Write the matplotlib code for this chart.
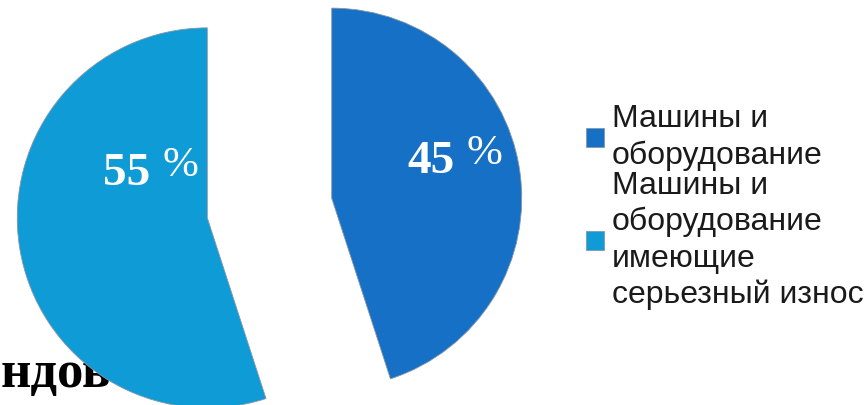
import matplotlib.pyplot as plt

# data
shares = [45, 55]
labels = ['Машины и\nоборудование',
          'Машины и\nоборудование\nимеющие\nсерьезный износ']
colors = ['#1570c6', '#0f9bd6']
pct_pos = [(461, 232), (156, 220)]   # gap between number and % sign (pixels, y up)


def main():
    fig = plt.figure(figsize=(8.68, 4.05), dpi=100)
    fig.patch.set_facecolor('white')
    ax = fig.add_axes([0, 0, 1, 1])

    # leftover slide title, partly hidden by the pie
    ax.text(1, 18, 'ндов', fontsize=38, fontweight='bold',
            family='Liberation Serif', color='black', va='baseline',
            ha='left', zorder=0)

    wedges, _ = ax.pie(shares, colors=colors, startangle=90, counterclock=False,
                       center=(269.5, 197), radius=190, explode=[63, 63],
                       wedgeprops=dict(edgecolor='#8796a8', linewidth=0.6,
                                       zorder=1))

    # number, then a raised % sign
    for val, (x, y) in zip(shares, pct_pos):
        ax.text(x - 6, y, f'{val}', fontsize=34, fontweight='bold',
                family='Liberation Serif', color='white', ha='right',
                va='baseline', zorder=3)
        ax.text(x + 6, y + 9, '%', fontsize=31,
                family='Liberation Serif', color='white', ha='left',
                va='baseline', zorder=3)

    leg = ax.legend(wedges, labels, loc='upper left',
                    bbox_to_anchor=(586 / 868, 1 - 104 / 405),
                    bbox_transform=fig.transFigure, frameon=False,
                    prop={'family': 'Liberation Sans', 'size': 23},
                    labelcolor='#1a1a1a', handlelength=0.55, handleheight=0.55,
                    handletextpad=0.25, labelspacing=0.0, borderpad=0,
                    borderaxespad=0)
    for t in leg.get_texts():
        t.set_linespacing(1.27)

    ax.set_xlim(0, 868)
    ax.set_ylim(0, 405)
    ax.axis('off')

    fig.savefig('out.png', dpi=100)


if __name__ == '__main__':
    main()
